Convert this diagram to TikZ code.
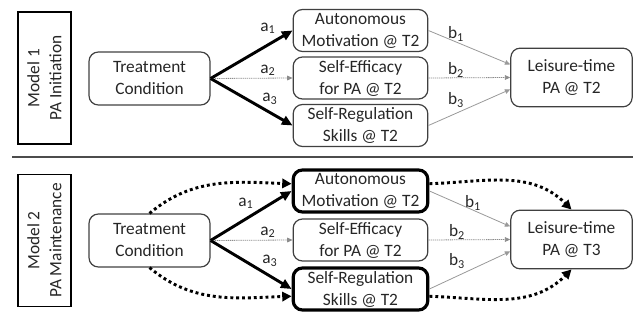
\documentclass[tikz,border=0pt]{standalone}
\usepackage{fontspec}
\setmainfont{Carlito}
\usetikzlibrary{arrows.meta}

\begin{document}
\begin{tikzpicture}[x=0.75pt,y=0.75pt,yscale=-1,xscale=1,
  every node/.style={font=\fontsize{13}{16.5}\selectfont, text=black!85},
  rbox/.style={draw=black!75, line width=0.9pt, rounded corners=7pt, align=center, inner sep=0pt},
  treatbox/.style={rbox, minimum width=90.75pt, minimum height=39.75pt},
  medbox/.style={rbox, minimum width=101pt, minimum height=31.5pt},
  medthick/.style={medbox, line width=2.4pt, draw=black},
  outbox/.style={rbox, minimum width=91pt, minimum height=44pt},
  modelbox/.style={draw=black, line width=1.4pt, rotate=90, align=center, inner sep=0pt, minimum width=99pt, minimum height=40pt},
  pathlbl/.style={inner sep=1pt},
  apath/.style={line width=2.2pt, -{Triangle[length=8pt,width=7pt]}},
  dpath/.style={black!45, line width=0.6pt, dash pattern=on 1pt off 0.6pt, -{Triangle[length=4pt,width=3.5pt]}},
  bpath/.style={black!40, line width=0.6pt, -{Triangle[length=4pt,width=3.5pt]}},
  indpath/.style={line width=2.2pt, dash pattern=on 2.2pt off 2.2pt, -{Triangle[length=7pt,width=7pt]}}
]
\useasboundingbox (0,0) rectangle (633,320);

%Model 1
% Text Node
\node (mb1) at (44.5,78) [modelbox] {Model 1\\PA Initiation};
% Text Node
\node (tc1) at (149.5,78.5) [treatbox] {Treatment\\Condition};
% Text Node
\node (am1) at (360.5,30.5) [medbox] {Autonomous\\Motivation @ T2};
% Text Node
\node (se1) at (360.5,78) [medbox] {Self-Efficacy\\for PA @ T2};
% Text Node
\node (sr1) at (360.5,125.5) [medbox] {Self-Regulation\\Skills @ T2};
% Text Node
\node (lt1) at (571.5,77.5) [outbox] {Leisure-time\\PA @ T2};

%Straight Lines
\draw [apath] (tc1.east) -- (am1.west);
\draw [dpath] (tc1.east) -- (se1.west);
\draw [apath] (tc1.east) -- (sr1.west);
\draw [bpath] (am1.east) -- (lt1.168);
\draw [dpath] (se1.east) -- (lt1.west);
\draw [bpath] (sr1.east) -- (lt1.191);

% Text Node
\node (a11) at (268,28) [pathlbl] {a\textsubscript{1}};
\node (a21) at (268,70) [pathlbl] {a\textsubscript{2}};
\node (a31) at (270,99) [pathlbl] {a\textsubscript{3}};
\node (b11) at (456,34) [pathlbl] {b\textsubscript{1}};
\node (b21) at (456,70) [pathlbl] {b\textsubscript{2}};
\node (b31) at (456,100) [pathlbl] {b\textsubscript{3}};

%Separator
\draw [black!70, line width=1pt] (12,157) -- (633,157);

%Model 2
% Text Node
\node (mb2) at (44.5,240.5) [modelbox] {Model 2\\PA Maintenance};
% Text Node
\node (tc2) at (149.5,240.5) [treatbox] {Treatment\\Condition};
% Text Node
\node (am2) at (360.5,191) [medthick] {Autonomous\\Motivation @ T2};
% Text Node
\node (se2) at (360.5,240) [medbox] {Self-Efficacy\\for PA @ T2};
% Text Node
\node (sr2) at (360.5,289) [medthick] {Self-Regulation\\Skills @ T2};
% Text Node
\node (lt2) at (571.5,239.5) [outbox] {Leisure-time\\PA @ T3};

%Straight Lines
\draw [apath] (tc2.east) -- (am2.west);
\draw [dpath] (tc2.east) -- (se2.west);
\draw [apath] (tc2.east) -- (sr2.west);
\draw [bpath] (am2.east) -- (lt2.168);
\draw [dpath] (se2.east) -- (lt2.west);
\draw [bpath] (sr2.east) -- (lt2.191);

%Curve Lines (angles flipped by yscale=-1)
\draw [indpath] (tc2.north) to [out=-40, in=-178] (am2.174);
\draw [indpath] (tc2.south) to [out=40, in=178] (sr2.186);
\draw [indpath] (am2.6) to [out=-2, in=-135] (lt2.north);
\draw [indpath] (sr2.-6) to [out=2, in=135] (lt2.south);

% Text Node
\node (a12) at (246,203) [pathlbl] {a\textsubscript{1}};
\node (a22) at (268,232) [pathlbl] {a\textsubscript{2}};
\node (a32) at (270,261) [pathlbl] {a\textsubscript{3}};
\node (b12) at (473,203) [pathlbl] {b\textsubscript{1}};
\node (b22) at (457,232) [pathlbl] {b\textsubscript{2}};
\node (b32) at (457,261) [pathlbl] {b\textsubscript{3}};

\end{tikzpicture}
\end{document}
